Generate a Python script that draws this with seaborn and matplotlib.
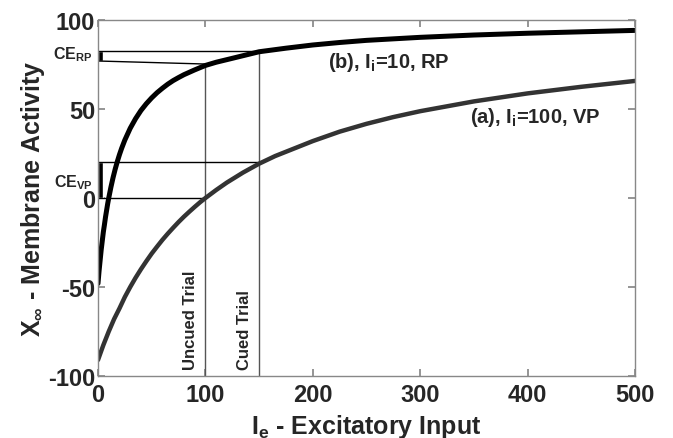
import numpy as np
import pandas as pd
import seaborn as sns
import matplotlib.pyplot as plt

# values
ie_b = [0, 1, 2, 3, 4, 5, 6, 7, 8, 9, 10, 12, 14, 16, 18, 20, 22, 25, 30, 35, 40, 45, 50, 55, 60, 65,
        70, 75, 80, 90, 100, 110, 125, 150, 175, 200, 225, 250, 300, 350, 400, 450, 500]
x_b = [-48, -41, -35, -29, -24, -19, -15, -10.7, -7, -3.3, 0, 6, 11.4, 16.2, 20.5, 24.4, 27.9, 32.6, 39.2,
       44.6, 49.2, 53, 56.3, 59.2, 61.7, 64, 66, 67.7, 69.3, 72, 74.5, 76.3, 78.5, 82.2, 84.2, 86, 87.4,
       88.6, 90.3, 91.6, 92.6, 93.4, 94.2]
ie_a = [0, 5, 10, 15, 20, 25, 30, 35, 40, 45, 50, 55, 60, 65, 70, 75, 80, 85, 90, 95, 100, 110, 120,
        135, 150, 165, 175, 200, 225, 250, 275, 300, 350, 400, 450, 500]
x_a = [-91, -82.6, -75, -68, -62, -55.6, -50, -44.8, -40, -35.5, -31.2, -27.3, -23.5, -20, -16.7, -13.5,
       -10.5, -7.7, -5, -2.4, 0, 4.5, 8.7, 14.3, 19.3, 23.6, 26, 32, 37.3, 41.7, 45.5, 48.8, 54.3,
       58.8, 62.5, 65.8]

trials = [100, 150]
trial_names = ["Uncued Trial", "Cued Trial"]
ce_rp = [77, 82.8]
ce_vp = [0, 20.5]

sns.set_theme(style="ticks")
plt.rcParams['font.family'] = ['Liberation Sans', 'DejaVu Sans']
plt.rcParams['font.weight'] = 'bold'
plt.rcParams['axes.unicode_minus'] = False
plt.rcParams['mathtext.fontset'] = 'custom'
plt.rcParams['mathtext.bf'] = 'Liberation Sans:bold'
plt.rcParams['mathtext.rm'] = 'Liberation Sans:bold'
plt.rcParams['mathtext.default'] = 'bf'

df_b = pd.DataFrame({"Ie": ie_b, "X": x_b})
df_a = pd.DataFrame({"Ie": ie_a, "X": x_a})

fig = plt.figure(figsize=(6.73, 4.39), dpi=100)
ax = fig.add_axes([0.1456, 0.1412, 0.7979, 0.8108])

# helper lines
ax.plot([trials[0], trials[0]], [-100, 75.3], color="#555555", lw=1)
ax.plot([trials[1], trials[1]], [-100, ce_rp[1]], color="#555555", lw=1)
ax.plot([0, trials[1]], [ce_rp[1], ce_rp[1]], color="black", lw=1)
ax.plot([0, trials[0]], [ce_rp[0], 75.3], color="black", lw=1)
ax.plot([0, trials[1]], [ce_vp[1], ce_vp[1]], color="black", lw=1)
ax.plot([0, trials[0]], [ce_vp[0], ce_vp[0]], color="black", lw=1)
ax.bar([0, 0], [ce_rp[1] - ce_rp[0], ce_vp[1] - ce_vp[0]], bottom=[ce_rp[0], ce_vp[0]],
       width=5, align="edge", color="black")

sns.lineplot(data=df_a, x="Ie", y="X", ax=ax, color="#333333", lw=3.2)
sns.lineplot(data=df_b, x="Ie", y="X", ax=ax, color="black", lw=3.6)

ax.set_xlim(0, 500)
ax.set_ylim(-100, 100)
ax.set_xticks([0, 100, 200, 300, 400, 500])
ax.set_yticks([-100, -50, 0, 50, 100])
ax.tick_params(direction="in", length=5, color="#888888", labelsize=17, top=True, right=True, pad=2)
ax.tick_params(axis="x", pad=5)
for lab in ax.get_xticklabels() + ax.get_yticklabels():
    lab.set_fontweight("bold")
for s in ax.spines.values():
    s.set_color("#888888")
    s.set_linewidth(1)

ax.set_xlabel(r"I$_\mathbf{e}$ - Excitatory Input", fontsize=18, fontweight="bold", labelpad=4)
ax.set_ylabel(r"X$_\infty$ - Membrane Activity", fontsize=18, fontweight="bold", labelpad=1)

ax.text(trials[0] - 14, -96, trial_names[0], rotation=90, ha="center", va="bottom", fontsize=12, fontweight="bold")
ax.text(trials[1] - 14, -96, trial_names[1], rotation=90, ha="center", va="bottom", fontsize=12, fontweight="bold")
ax.text(214, 77, r"(b), I$_\mathbf{i}$=10, RP", fontsize=14.5, fontweight="bold", va="center")
ax.text(346, 46, r"(a), I$_\mathbf{i}$=100, VP", fontsize=14.5, fontweight="bold", va="center")
ax.text(-5, 81, r"CE$_\mathbf{RP}$", fontsize=11.5, fontweight="bold", ha="right", va="center", clip_on=False)
ax.text(-5, 9, r"CE$_\mathbf{VP}$", fontsize=11.5, fontweight="bold", ha="right", va="center", clip_on=False)

fig.savefig("out.png", dpi=100)
